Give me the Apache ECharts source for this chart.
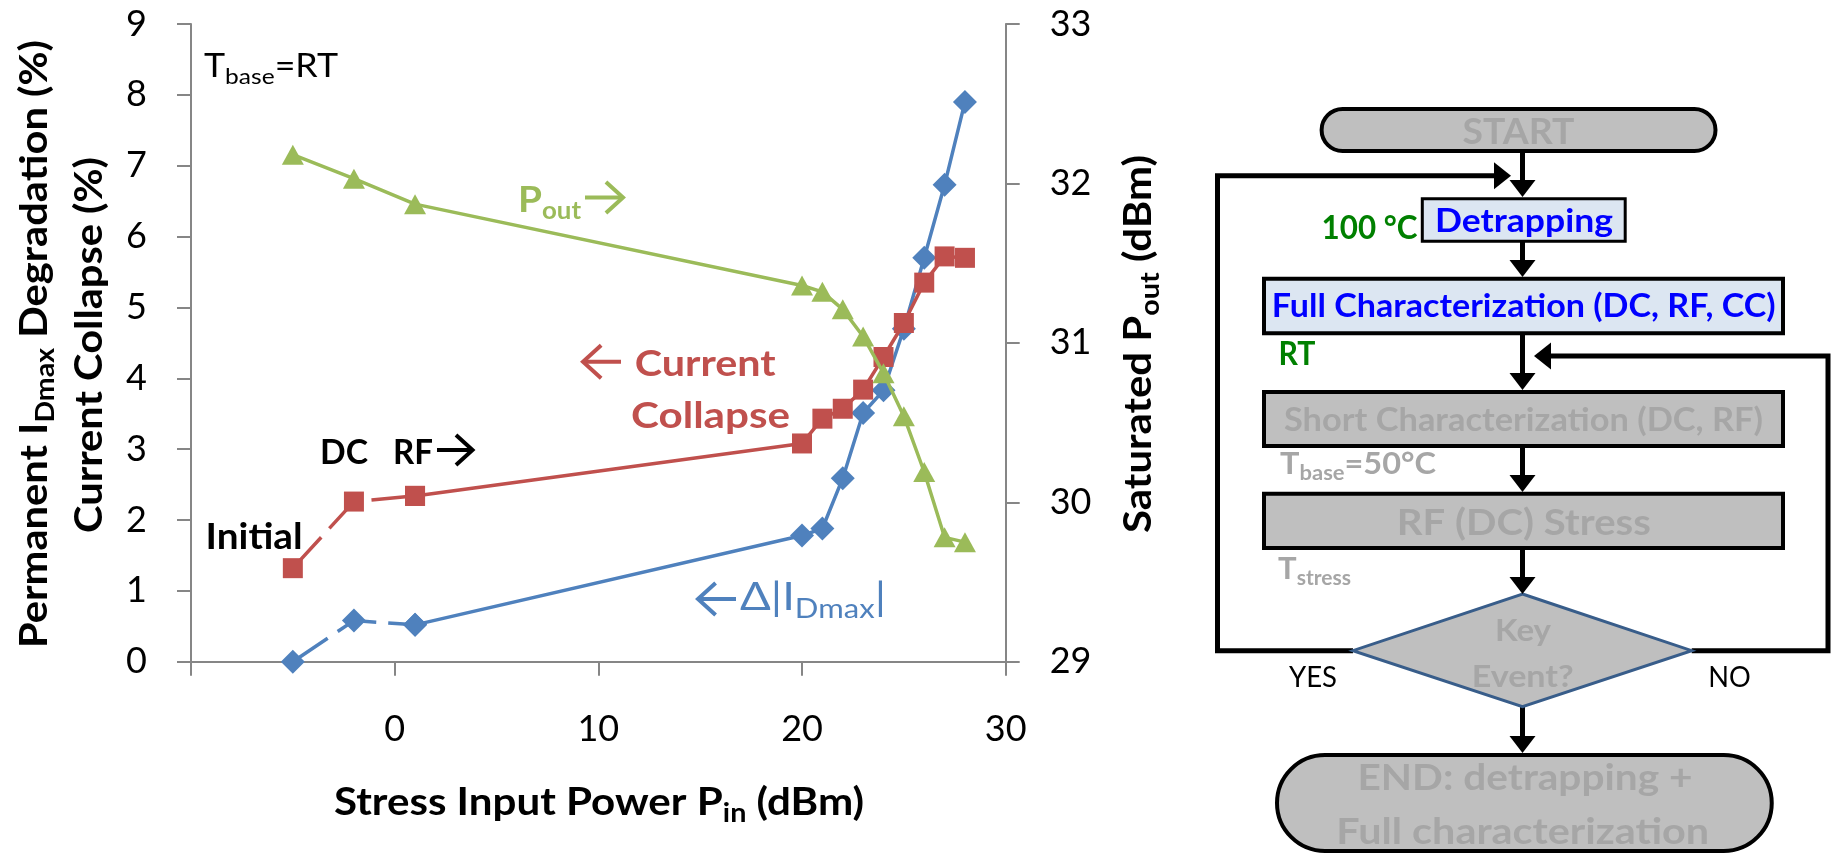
<!DOCTYPE html>
<html>
<head>
<meta charset="utf-8">
<script src="https://cdn.jsdelivr.net/npm/echarts@6/dist/echarts.min.js"></script>
<style>
  html, body { margin: 0; padding: 0; background: #fff; }
  #main { width: 1833px; height: 855px; }
</style>
</head>
<body>
<div id="main"></div>
<script>
// Stress input power steps (dBm) and the measured responses
const pinStress = [-5, -2, 1, 20, 21, 22, 23, 24, 25, 26, 27, 28];
const idmaxDegradation = [0, 0.58, 0.52, 1.78, 1.88, 2.59, 3.51, 3.83, 4.70, 5.70, 6.73, 7.90];
const currentCollapse = [1.32, 2.26, 2.34, 3.08, 3.43, 3.57, 3.84, 4.30, 4.78, 5.35, 5.72, 5.70];
const saturatedPout = [32.18, 32.03, 31.87, 31.36, 31.32, 31.21, 31.04, 30.81, 30.54, 30.19, 29.78, 29.75];

// Axis ticks and their labels
const pinTicks = [-10, 0, 10, 20, 30];
const pinTickLabels = ['', '0', '10', '20', '30'];
const leftTicks = [0, 1, 2, 3, 4, 5, 6, 7, 8, 9];
const rightTicks = [29, 30, 31, 32, 33];

// Number of leading points measured before RF stress (drawn dashed)
const preStressCount = 3;

const FONT = 'Lato, "Open Sans", sans-serif';
const BLUE = '#4F81BD', RED = '#C0504D', GREEN = '#9BBB59';
const AXIS_GREY = '#868686';
const BOX_GREY = '#BFBFBF', TEXT_GREY = '#A6A6A6';
const BOX_BLUE = '#DCE6F2', TEXT_BLUE = '#0000FF', TEXT_GREEN = '#008000';

const measureCtx = document.createElement('canvas').getContext('2d');
function textWidth(str, size, weight) {
  measureCtx.font = weight + ' ' + size + 'px Lato';
  return measureCtx.measureText(str).width;
}

// Rich text element; parts = [[text, isSubscript], ...]; optional width squeezes/stretches it
function label(o) {
  const size = o.size;
  const weight = o.weight || 'bold';
  const color = o.color || '#000';
  const subSize = Math.round(size * 0.68);
  const L = Math.round(size * 1.3);
  const shift = o.subShift != null ? o.subShift : size * 0.28;
  const subLH = Math.max(4, L - 2 * (shift + 0.32 * (size - subSize)));
  let text = '';
  let w = 0;
  o.parts.forEach(function (p) {
    const sub = !!p[1];
    text += '{' + (sub ? 's' : 'n') + '|' + p[0] + '}';
    w += textWidth(p[0], sub ? subSize : size, weight);
  });
  const align = o.align || 'center';
  return {
    type: 'text',
    x: o.x, y: o.y,
    rotation: o.rotation || 0,
    scaleX: o.width ? o.width / w : 1,
    z: 40, silent: true,
    style: {
      text: text,
      fill: color,
      align: align, textAlign: align,
      verticalAlign: 'middle', textVerticalAlign: 'middle',
      rich: {
        n: { fontSize: size, fontWeight: weight, fontFamily: FONT, lineHeight: L, fill: color },
        s: { fontSize: subSize, fontWeight: weight, fontFamily: FONT, lineHeight: subLH, verticalAlign: 'bottom', fill: color }
      }
    }
  };
}

// Open chevron arrow used beside the curve names
function arrowMark(xTail, xTip, y, h, color) {
  const dir = xTip > xTail ? 1 : -1;
  const d = h * 0.55;
  return [
    { type: 'polyline', z: 40, silent: true, shape: { points: [[xTail, y], [xTip - dir * 1.5, y]] },
      style: { stroke: color, lineWidth: 4 } },
    { type: 'polyline', z: 40, silent: true,
      shape: { points: [[xTip - dir * d, y - h / 2], [xTip, y], [xTip - dir * d, y + h / 2]] },
      style: { stroke: color, lineWidth: 4, lineJoin: 'miter' } }
  ];
}

// Flowchart pieces
function connector(points, w) {
  return { type: 'polyline', z: 10, silent: true, shape: { points: points },
    style: { stroke: '#000', lineWidth: w || 5, lineJoin: 'miter' } };
}
function headDown(x, tipY) {
  return { type: 'polygon', z: 25, silent: true,
    shape: { points: [[x - 13, tipY - 17], [x + 13, tipY - 17], [x, tipY]] }, style: { fill: '#000' } };
}
function headHoriz(tipX, y, dir) {
  return { type: 'polygon', z: 25, silent: true,
    shape: { points: [[tipX - dir * 17, y - 13.5], [tipX - dir * 17, y + 13.5], [tipX, y]] }, style: { fill: '#000' } };
}
function box(x, y, w, h, fill, r, lw) {
  return { type: 'rect', z: 20, silent: true, shape: { x: x, y: y, width: w, height: h, r: r || 0 },
    style: { fill: fill, stroke: '#000', lineWidth: lw || 4 } };
}

const CX = 1522.5;
const flow = [
  // connectors
  connector([[CX, 153], [CX, 185]]),
  connector([[CX, 242], [CX, 262]]),
  connector([[CX, 335], [CX, 377]]),
  connector([[CX, 447], [CX, 478]]),
  connector([[CX, 550], [CX, 580]]),
  connector([[CX, 706], [CX, 738]]),
  connector([[1353, 650.7], [1217.5, 650.7], [1217.5, 175.7], [1498, 175.7]]),
  connector([[1691.7, 650.7], [1828, 650.7], [1828, 356], [1547, 356]]),
  headDown(CX, 197), headDown(CX, 277), headDown(CX, 390), headDown(CX, 492), headDown(CX, 594), headDown(CX, 753),
  headHoriz(1511, 175.7, 1), headHoriz(1534, 356, -1),
  // boxes
  box(1321.6, 109, 393.9, 42, BOX_GREY, 21),
  box(1422.3, 198.8, 202.9, 42.4, BOX_BLUE, 0, 3),
  box(1264, 278.7, 519, 54.6, BOX_BLUE),
  box(1264, 392, 519, 54, BOX_GREY),
  box(1264, 493.7, 519, 54.3, BOX_GREY),
  { type: 'polygon', z: 20, silent: true,
    shape: { points: [[CX, 594], [1691.7, 650.7], [CX, 706.7], [1352.9, 650.7]] },
    style: { fill: BOX_GREY, stroke: '#385D8A', lineWidth: 3 } },
  box(1277, 755, 494.75, 96, BOX_GREY, 48),
  // texts
  label({ x: 1518.5, y: 131.7, size: 37, width: 112, color: TEXT_GREY, parts: [['START']] }),
  label({ x: 1524, y: 221.7, size: 33, width: 178, color: TEXT_BLUE, parts: [['Detrapping']] }),
  label({ x: 1369.6, y: 228, size: 33, width: 96, color: TEXT_GREEN, parts: [['100 °C']] }),
  label({ x: 1523.7, y: 306.7, size: 33, width: 504, color: TEXT_BLUE, parts: [['Full Characterization (DC, RF, CC)']] }),
  label({ x: 1297, y: 354, size: 33, width: 37, color: TEXT_GREEN, parts: [['RT']] }),
  label({ x: 1523.5, y: 420, size: 33, width: 479, color: TEXT_GREY, parts: [['Short Characterization (DC, RF)']] }),
  label({ x: 1280, y: 464, size: 31, width: 156, align: 'left', color: TEXT_GREY, subShift: 8, parts: [['T'], ['base', 1], ['=50°C']] }),
  label({ x: 1523.8, y: 523, size: 37, width: 254, color: TEXT_GREY, parts: [['RF (DC) Stress']] }),
  label({ x: 1278, y: 569, size: 31, width: 73, align: 'left', color: TEXT_GREY, subShift: 8, parts: [['T'], ['stress', 1]] }),
  label({ x: 1523, y: 630.7, size: 31, width: 56, color: TEXT_GREY, parts: [['Key']] }),
  label({ x: 1522.7, y: 676.7, size: 31, width: 102, color: TEXT_GREY, parts: [['Event?']] }),
  label({ x: 1313, y: 678, size: 28, width: 48, weight: 'normal', parts: [['YES']] }),
  label({ x: 1729.6, y: 678, size: 28, width: 42.5, weight: 'normal', parts: [['NO']] }),
  label({ x: 1525, y: 778, size: 37, width: 335, color: TEXT_GREY, parts: [['END: detrapping +']] }),
  label({ x: 1522.7, y: 831.7, size: 37, width: 373, color: TEXT_GREY, parts: [['Full characterization']] })
];

const notes = [
  // axis titles
  label({ x: 34.6, y: 344, rotation: Math.PI / 2, size: 38, width: 608, parts: [['Permanent I'], ['Dmax', 1], [' Degradation (%)']] }),
  label({ x: 90, y: 345, rotation: Math.PI / 2, size: 38, width: 376, parts: [['Current Collapse (%)']] }),
  label({ x: 1139, y: 344, rotation: Math.PI / 2, size: 38, width: 378, parts: [['Saturated P'], ['out', 1], [' (dBm)']] }),
  label({ x: 599, y: 802.5, size: 38, width: 530, parts: [['Stress Input Power P'], ['in', 1], [' (dBm)']] }),
  // in-plot annotations
  label({ x: 204, y: 66.7, size: 32, width: 134, weight: 'normal', align: 'left', subShift: 10, parts: [['T'], ['base', 1], ['=RT']] }),
  label({ x: 518, y: 200, size: 36, width: 63, align: 'left', color: GREEN, subShift: 10, parts: [['P'], ['out', 1]] }),
  label({ x: 634.7, y: 364, size: 37, width: 141, align: 'left', color: RED, parts: [['Current']] }),
  label({ x: 631, y: 416, size: 37, width: 159, align: 'left', color: RED, parts: [['Collapse']] }),
  label({ x: 320, y: 452.5, size: 35, width: 48, align: 'left', parts: [['DC']] }),
  label({ x: 393, y: 452.5, size: 35, width: 40, align: 'left', parts: [['RF']] }),
  label({ x: 205.6, y: 537, size: 37, width: 97, align: 'left', parts: [['Initial']] }),
  label({ x: 740, y: 598, size: 38, width: 146, weight: 'normal', align: 'left', color: BLUE, subShift: 11, parts: [['Δ|I'], ['Dmax', 1], ['|']] })
].concat(
  arrowMark(585, 623, 197.5, 31, GREEN),
  arrowMark(621, 583, 361.7, 33, RED),
  arrowMark(437, 472.5, 450, 30, '#000'),
  arrowMark(736, 698, 599, 32, BLUE)
);

const pairs = ys => pinStress.map((x, i) => [x, ys[i]]);

function curve(ys, color, symbol, symbolSize, yAxisIndex, z, dashedHead) {
  const all = pairs(ys);
  const base = {
    type: 'line', yAxisIndex: yAxisIndex, z: z,
    symbol: symbol, symbolSize: symbolSize, showAllSymbol: true,
    itemStyle: { color: color }, emphasis: { disabled: true }, silent: true
  };
  if (!dashedHead) {
    return [Object.assign({}, base, { data: all, lineStyle: { color: color, width: 3.5 } })];
  }
  return [
    Object.assign({}, base, { data: all.slice(0, preStressCount), lineStyle: { color: color, width: 3.5, type: [42, 12] } }),
    Object.assign({}, base, { data: all.slice(preStressCount - 1), lineStyle: { color: color, width: 3.5 } })
  ];
}

const axisLine = { show: true, onZero: false, lineStyle: { color: AXIS_GREY, width: 2 } };
const axisTick = { show: true, inside: false, length: 14, lineStyle: { color: AXIS_GREY, width: 2 } };
const tickFont = { color: '#000', fontFamily: FONT, fontSize: 36 };

const chart = echarts.init(document.getElementById('main'), null, { renderer: 'canvas' });
chart.setOption({
  animation: false,
  backgroundColor: '#fff',
  grid: { left: 191, top: 24, right: 827.3, bottom: 193.3, containLabel: false, outerBoundsMode: 'none' },
  xAxis: {
    type: 'value', min: pinTicks[0], max: pinTicks[pinTicks.length - 1], interval: 10,
    axisLine: axisLine, axisTick: axisTick, splitLine: { show: false },
    axisLabel: Object.assign({ margin: 50, formatter: v => pinTickLabels[pinTicks.indexOf(v)] }, tickFont)
  },
  yAxis: [
    {
      type: 'value', position: 'left', min: leftTicks[0], max: leftTicks[leftTicks.length - 1], interval: 1,
      axisLine: axisLine, axisTick: axisTick, splitLine: { show: false },
      axisLabel: Object.assign({ margin: 44 }, tickFont)
    },
    {
      type: 'value', position: 'right', min: rightTicks[0], max: rightTicks[rightTicks.length - 1], interval: 1,
      axisLine: axisLine, axisTick: axisTick, splitLine: { show: false },
      axisLabel: Object.assign({ margin: 44 }, tickFont)
    }
  ],
  series: [].concat(
    curve(idmaxDegradation, BLUE, 'diamond', [24, 24], 0, 3, true),
    curve(currentCollapse, RED, 'rect', 20, 0, 4, true),
    curve(saturatedPout, GREEN, 'triangle', [22, 20], 1, 5, false)
  ),
  graphic: { elements: notes.concat(flow) }
});
</script>
</body>
</html>
